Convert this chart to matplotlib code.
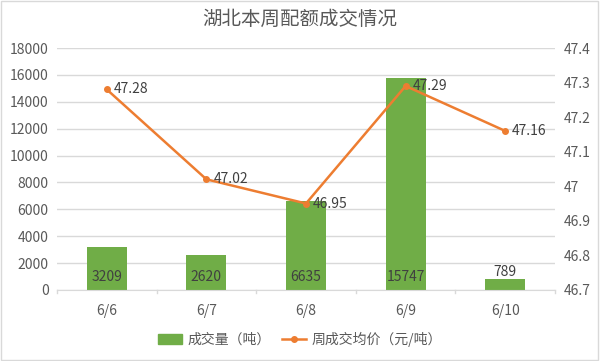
import matplotlib.pyplot as plt
from matplotlib.lines import Line2D
from matplotlib.patches import Patch, Rectangle

plt.rcParams['font.family'] = ['Noto Sans CJK SC', 'DejaVu Sans']

dates = ['6/6', '6/7', '6/8', '6/9', '6/10']
volume = [3209, 2620, 6635, 15747, 789]
price = [47.28, 47.02, 46.95, 47.29, 47.16]

green = '#70AD47'
orange = '#ED7D31'
txt = '#595959'
grid = '#D9D9D9'

fig = plt.figure(figsize=(6, 3.61), dpi=100)
ax = fig.add_axes([0.095, 0.197, 0.83, 0.67])
ax2 = ax.twinx()

x = range(len(dates))
ax.bar(x, volume, width=0.4, color=green, zorder=2)
ax.set_ylim(0, 18000)
ax.set_yticks(range(0, 18001, 2000))
ax.set_xlim(-0.5, len(dates) - 0.5)
ax.set_xticks(list(x))
ax.set_xticklabels(dates)
ax.yaxis.grid(True, color=grid, lw=1)
ax.set_axisbelow(True)
for s in ['top', 'right', 'left']:
    ax.spines[s].set_visible(False)
ax.spines['bottom'].set_color(grid)
ax.tick_params(axis='y', length=0, colors=txt, labelsize=10, pad=6)
ax.tick_params(axis='x', length=0, colors=txt, labelsize=10, pad=10)
# category separator ticks
for b in [i - 0.5 for i in range(len(dates) + 1)]:
    ax.plot([b, b], [0, -250], color=grid, lw=1, clip_on=False)

for i, v in enumerate(volume):
    if v > 1500:
        ax.annotate(str(v), (i, 0), xytext=(0, 4), textcoords='offset points',
                    ha='center', va='bottom', fontsize=10, color='#404040')
    else:
        ax.annotate(str(v), (i, v), xytext=(0, 0), textcoords='offset points',
                    ha='center', va='bottom', fontsize=10, color='#404040')

ax2.plot(list(x), price, color=orange, lw=1.8, marker='o', ms=4, zorder=3)
ax2.set_ylim(46.7, 47.4)
ax2.set_yticks([46.7, 46.8, 46.9, 47.0, 47.1, 47.2, 47.3, 47.4])
ax2.set_yticklabels(['46.7', '46.8', '46.9', '47', '47.1', '47.2', '47.3', '47.4'])
for s in ax2.spines.values():
    s.set_visible(False)
ax2.tick_params(axis='y', length=0, colors=txt, labelsize=10, pad=6)
for i, p in enumerate(price):
    ax2.annotate(f'{p:.2f}', (i, p), xytext=(5, 0), textcoords='offset points',
                 ha='left', va='center', fontsize=10, color='#404040')

fig.text(0.5, 0.945, '湖北本周配额成交情况', ha='center', va='center',
         fontsize=14, color=txt)

handles = [Patch(color=green), Line2D([], [], color=orange, lw=1.8, marker='o', ms=4)]
fig.legend(handles, ['成交量（吨）', '周成交均价（元/吨）'], loc='center',
           bbox_to_anchor=(0.5, 0.06), ncol=2, frameon=False, fontsize=10,
           labelcolor=txt, handlelength=1.7, handletextpad=0.4, columnspacing=0.8)

fig.patches.append(Rectangle((0.002, 0.003), 0.995, 0.993, transform=fig.transFigure,
                             fill=False, edgecolor=grid, lw=1))

fig.savefig('out.png', dpi=100)
